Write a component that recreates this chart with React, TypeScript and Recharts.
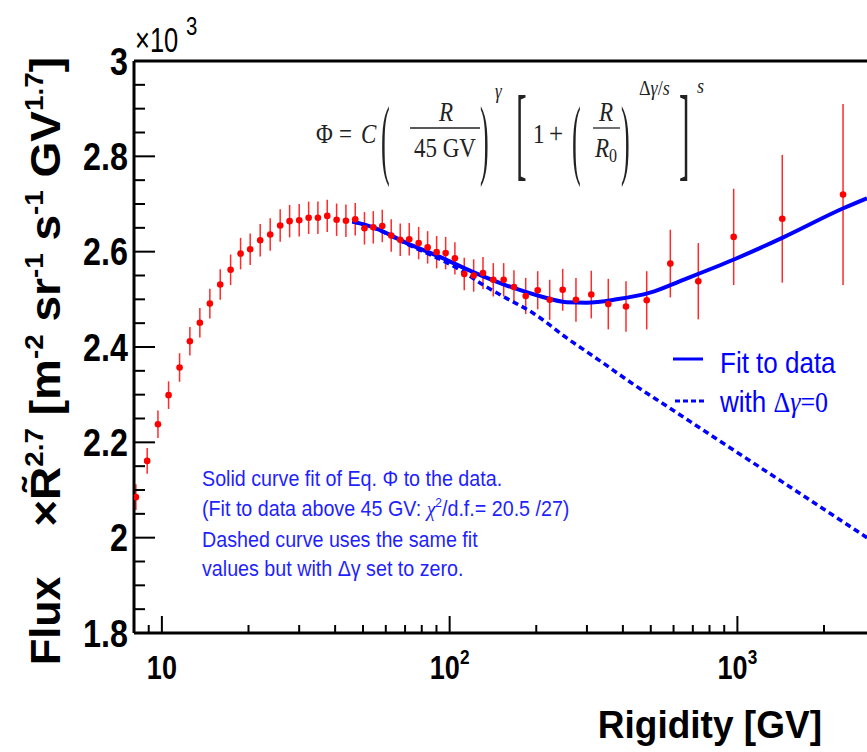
import React from "react";
import { ComposedChart, XAxis, YAxis, Scatter, Line, ErrorBar, ReferenceLine } from "recharts";

// ---- data ----
const rigidity = [8.12, 8.89, 9.69, 10.55, 11.52, 12.51, 13.55, 14.68, 15.95, 17.33, 18.77, 20.27, 21.96, 23.79, 25.77, 27.79, 30.01, 32.36, 34.85, 37.55, 40.48, 43.61, 46.98, 50.58, 54.28, 58.33, 62.66, 67.34, 72.37, 78.04, 83.85, 90.11, 96.85, 104.3, 112.4, 121.2, 130.6, 141.8, 154.1, 167.3, 183.8, 202.3, 222.7, 247.1, 274.8, 310.6, 355.9, 410.1, 484.0, 584.7, 731.3, 970.7, 1432, 2329];
const fluxValues = [2.085, 2.161, 2.238, 2.299, 2.357, 2.412, 2.451, 2.491, 2.531, 2.562, 2.596, 2.605, 2.624, 2.636, 2.655, 2.664, 2.666, 2.671, 2.671, 2.675, 2.667, 2.665, 2.668, 2.649, 2.651, 2.654, 2.634, 2.625, 2.626, 2.618, 2.609, 2.599, 2.597, 2.586, 2.553, 2.55, 2.555, 2.541, 2.541, 2.526, 2.507, 2.519, 2.499, 2.52, 2.499, 2.51, 2.49, 2.485, 2.498, 2.575, 2.538, 2.631, 2.669, 2.72];
const fluxErrors = [0.027, 0.027, 0.029, 0.029, 0.03, 0.03, 0.031, 0.031, 0.032, 0.032, 0.033, 0.033, 0.034, 0.034, 0.034, 0.034, 0.034, 0.034, 0.034, 0.034, 0.034, 0.034, 0.034, 0.034, 0.034, 0.034, 0.034, 0.034, 0.034, 0.034, 0.034, 0.034, 0.034, 0.034, 0.034, 0.034, 0.034, 0.035, 0.035, 0.035, 0.038, 0.04, 0.042, 0.044, 0.046, 0.05, 0.053, 0.053, 0.061, 0.071, 0.08, 0.101, 0.134, 0.19];
const fitRigidity = [45.9, 54.3, 70.9, 92.5, 120.8, 157.8, 205, 255.1, 299.4, 380.6, 496.8, 648.6, 967.8, 1444, 2334, 2821];
const fitValues = [2.663, 2.651, 2.618, 2.589, 2.557, 2.529, 2.507, 2.494, 2.493, 2.5, 2.514, 2.541, 2.583, 2.63, 2.691, 2.712];
const noBreakRigidity = [45.9, 54.3, 70.9, 92.5, 108.6, 130.9, 157.8, 195.3, 255.1, 333, 434.6, 567.9, 847.6, 1432, 2821];
const noBreakValues = [2.663, 2.65, 2.616, 2.584, 2.562, 2.53, 2.502, 2.471, 2.419, 2.371, 2.322, 2.276, 2.207, 2.117, 2.0];

const xMajorTicks = [10, 100, 1000];
const xMajorBase = ["10", "10", "10"];
const xMajorExp = ["", "2", "3"];
const xMinorTicks = [9, 20, 30, 40, 50, 60, 70, 80, 90, 200, 300, 400, 500, 600, 700, 800, 900, 2000];
const yMajorTicks = [1.8, 2.0, 2.2, 2.4, 2.6, 2.8, 3.0];
const yMajorLabels = ["1.8", "2", "2.2", "2.4", "2.6", "2.8", "3"];
const yMinorTicks = [1.85, 1.9, 1.95, 2.05, 2.1, 2.15, 2.25, 2.3, 2.35, 2.45, 2.5, 2.55, 2.65, 2.7, 2.75, 2.85, 2.9, 2.95];

const points = rigidity.map((r, i) => ({ r, v: fluxValues[i], e: fluxErrors[i] }));
const fitData = fitRigidity.map((r, i) => ({ r, v: fitValues[i] }));
const noBreakData = noBreakRigidity.map((r, i) => ({ r, v: noBreakValues[i] }));
const xTicks = [...xMinorTicks, ...xMajorTicks].sort((a, b) => a - b);
const yTicks = [...yMinorTicks, ...yMajorTicks].sort((a, b) => a - b);

const SANS = "'Liberation Sans', Arial, Helvetica, sans-serif";
const SERIF = "'Liberation Serif', 'Times New Roman', serif";
const AX_X = 134;
const AX_Y = 633;

const YTick = (props: any) => {
  const { y, payload } = props;
  const v = payload.value;
  const i = yMajorTicks.findIndex((t) => Math.abs(t - v) < 1e-6);
  const major = i >= 0;
  return (
    <g>
      <line x1={AX_X} x2={AX_X + (major ? 21 : 11)} y1={y} y2={y} stroke="#000" strokeWidth={2} />
      {major && (
        <text transform={`translate(128,${y + 13.6}) scale(0.85,1)`} fontSize={38} fontWeight="bold" fontFamily={SANS} textAnchor="end" fill="#000">
          {yMajorLabels[i]}
        </text>
      )}
    </g>
  );
};

const XTick = (props: any) => {
  const { x, payload } = props;
  const v = payload.value;
  const i = xMajorTicks.findIndex((t) => Math.abs(t - v) < 1e-6);
  const major = i >= 0;
  return (
    <g>
      <line x1={x} x2={x} y1={AX_Y} y2={AX_Y - (major ? 17 : 8)} stroke="#000" strokeWidth={2} />
      {major && (
        <text transform={`translate(${x},679) scale(0.82,1)`} fontSize={33} fontWeight="bold" fontFamily={SANS} textAnchor="middle" fill="#000">
          {xMajorBase[i]}
          {xMajorExp[i] && (
            <tspan fontSize={21} dy={-15}>{xMajorExp[i]}</tspan>
          )}
        </text>
      )}
    </g>
  );
};

const M = ({ x, y, size = 23, italic = false, anchor = "start", children }: any) => (
  <text
    transform={`translate(${x},${y}) scale(1,1.2)`}
    fontSize={size}
    fontStyle={italic ? "italic" : "normal"}
    textAnchor={anchor}
  >
    {children}
  </text>
);

export default function App() {
  return (
    <div style={{ position: "absolute", left: 0, top: 0, width: 867, height: 752, background: "#fff", overflow: "hidden" }}>
      <ComposedChart width={867} height={752} margin={{ top: 61, right: 0, bottom: 79, left: 74 }}>
        <XAxis
          type="number"
          dataKey="r"
          scale="log"
          domain={[8, 2821]}
          allowDataOverflow
          ticks={xTicks}
          interval={0}
          tickLine={false}
          tick={(p: any) => <XTick {...p} />}
          height={40}
          axisLine={{ stroke: "#000", strokeWidth: 3 }}
        />
        <YAxis
          type="number"
          dataKey="v"
          domain={[1.8, 3.0]}
          allowDataOverflow
          ticks={yTicks}
          interval={0}
          tickLine={false}
          tick={(p: any) => <YTick {...p} />}
          width={60}
          axisLine={{ stroke: "#000", strokeWidth: 3 }}
        />
        <ReferenceLine y={3.0} stroke="#000" strokeWidth={3} />
        <ReferenceLine y={1.8} stroke="#00008b" strokeWidth={1.5} />
        <Scatter
          data={points}
          dataKey="v"
          isAnimationActive={false}
          shape={(p: any) => <circle cx={p.cx} cy={p.cy} r={3.3} fill="#ff0000" />}
        >
          <ErrorBar dataKey="e" direction="y" width={0} stroke="#ff2a2a" strokeWidth={1.5} isAnimationActive={false} />
        </Scatter>
        <Line data={noBreakData} dataKey="v" type="monotone" stroke="#0000ff" strokeWidth={3.5} strokeDasharray="6 4" dot={false} isAnimationActive={false} />
        <Line data={fitData} dataKey="v" type="monotone" stroke="#0000ff" strokeWidth={4} dot={false} isAnimationActive={false} />
      </ComposedChart>

      <svg width={867} height={752} style={{ position: "absolute", left: 0, top: 0, pointerEvents: "none" }}>
        {/* x10^3 */}
        <text transform="translate(135,52) scale(0.75,1.05)" fontSize={34} fontFamily={SANS} fill="#000">
          ×10
        </text>
        <text transform="translate(186,35) scale(0.85,1.05)" fontSize={24} fontFamily={SANS} fill="#000">
          3
        </text>

        {/* y title */}
        <text transform="translate(60,665) rotate(-90)" fontSize={43} fontWeight="bold" fontFamily={SANS} textAnchor="start" fill="#000">
          Flux
        </text>
        <text transform="translate(60,57) rotate(-90) scale(1.07,1)" fontSize={43} fontWeight="bold" fontFamily={SANS} textAnchor="end" fill="#000">
          <tspan>{"×R\u0303"}</tspan>
          <tspan fontSize={26} dy={-17}>2.7</tspan>
          <tspan dy={17}>{"\u00A0[m"}</tspan>
          <tspan fontSize={26} dy={-17}>-2</tspan>
          <tspan dy={17}>{"\u00A0sr"}</tspan>
          <tspan fontSize={26} dy={-17}>-1</tspan>
          <tspan dy={17}>{"\u00A0s"}</tspan>
          <tspan fontSize={26} dy={-17}>-1</tspan>
          <tspan dy={17}>{"\u00A0GV"}</tspan>
          <tspan fontSize={26} dy={-17}>1.7</tspan>
          <tspan dy={17}>]</tspan>
        </text>

        {/* x title */}
        <text transform="translate(822,738) scale(0.95,1)" fontSize={39} fontWeight="bold" fontFamily={SANS} textAnchor="end" fill="#000">
          Rigidity [GV]
        </text>

        {/* formula */}
        <g fill="#222" fontFamily={SERIF}>
          <M x={316} y={143}>Φ</M>
          <M x={339} y={143}>=</M>
          <M x={361} y={143} italic>C</M>
          <text transform="translate(381,168) scale(0.45,1.55)" fontSize={58}>(</text>
          <M x={446} y={121} italic anchor="middle">R</M>
          <line x1={410} x2={480} y1={128} y2={128} stroke="#222" strokeWidth={1.3} />
          <M x={445} y={157} anchor="middle">45 GV</M>
          <text transform="translate(480,168) scale(0.45,1.55)" fontSize={58}>)</text>
          <M x={495} y={98} size={17} italic>γ</M>
          <text transform="translate(516,167) scale(0.55,1.8)" fontSize={58}>[</text>
          <M x={533} y={143}>1</M>
          <M x={549} y={143} size={25}>+</M>
          <text transform="translate(572,168) scale(0.45,1.55)" fontSize={58}>(</text>
          <M x={606} y={121} italic anchor="middle">R</M>
          <line x1={593} x2={620} y1={128} y2={128} stroke="#222" strokeWidth={1.3} />
          <text transform="translate(606,157) scale(1,1.2)" fontSize={23} fontStyle="italic" textAnchor="middle">
            R<tspan fontSize={16} fontStyle="normal" dy={4}>0</tspan>
          </text>
          <text transform="translate(621,168) scale(0.45,1.55)" fontSize={58}>)</text>
          <text transform="translate(639,95) scale(1,1.2)" fontSize={18}>
            Δ<tspan fontStyle="italic">γ</tspan>/<tspan fontStyle="italic">s</tspan>
          </text>
          <text transform="translate(679,167) scale(0.55,1.8)" fontSize={58}>]</text>
          <M x={697} y={93} size={18} italic>s</M>
        </g>

        {/* legend */}
        <line x1={673} x2={703} y1={359} y2={359} stroke="#0000ff" strokeWidth={3} />
        <text transform="translate(720,373) scale(1,1.12)" fontSize={26} fontFamily={SANS} fill="#0000ff">
          Fit to data
        </text>
        <line x1={675} x2={707} y1={401} y2={401} stroke="#0000ff" strokeWidth={3} strokeDasharray="5 3" />
        <text transform="translate(720,412) scale(1,1.12)" fontSize={26} fill="#0000ff">
          <tspan fontFamily={SANS}>{"with\u00A0"}</tspan>
          <tspan fontFamily={SERIF}>Δ</tspan>
          <tspan fontFamily={SERIF} fontStyle="italic">γ</tspan>
          <tspan fontFamily={SERIF}>=0</tspan>
        </text>

        {/* annotation */}
        <g fontFamily={SANS} fill="#1f1fff" fontSize={19.7}>
          <text transform="translate(202,486) scale(1,1.1)">Solid curve fit of Eq. Φ to the data.</text>
          <text transform="translate(202,516) scale(1,1.1)">
            {"(Fit to data above 45 GV: "}
            <tspan fontFamily={SERIF} fontStyle="italic">χ</tspan>
            <tspan fontSize={12} dy={-8}>2</tspan>
            <tspan dy={8}>/d.f.= 20.5 /27)</tspan>
          </text>
          <text transform="translate(202,547) scale(1,1.1)">Dashed curve uses the same fit</text>
          <text transform="translate(202,576) scale(1,1.1)">values but with Δγ set to zero.</text>
        </g>
      </svg>
    </div>
  );
}
